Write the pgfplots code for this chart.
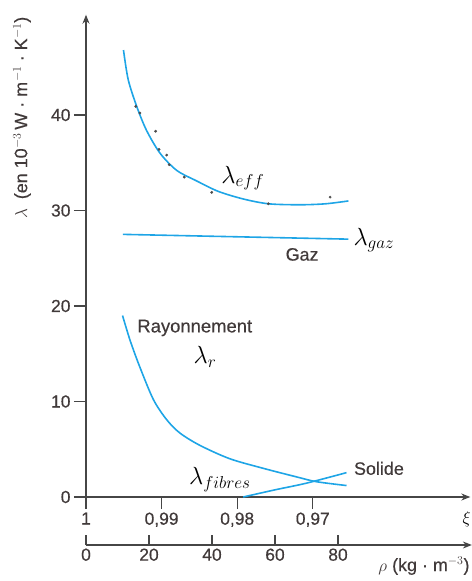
\documentclass[border=0pt]{standalone}
\usepackage{fontspec}
\setmainfont[FakeBold=0.4]{Liberation Sans}
\usepackage{pgfplots}
\pgfplotsset{compat=1.18}
\usetikzlibrary{arrows.meta}
\definecolor{courbe}{RGB}{30,165,230}
\definecolor{axe}{RGB}{70,70,70}
\definecolor{texte}{RGB}{65,58,58}

\begin{document}
\begin{tikzpicture}
\useasboundingbox (-86bp,-84bp) rectangle (386bp,497bp);
\begin{axis}[
  at={(0,0)}, anchor=south west,
  x=3.15bp, y=9.55bp,
  xmin=0, xmax=122, ymin=0, ymax=50.5,
  axis lines=left,
  axis line style={axe, line width=1.2bp, -{Stealth[length=9bp,width=7bp]}},
  tick align=outside, major tick length=12bp,
  tick style={axe, line width=1.2bp},
  xtick={0,24,48,72}, xticklabels={1,{0,99},{0,98},{0,97}},
  ytick={0,10,20,30,40},
  ticklabel style={font=\fontsize{17.5}{20}\selectfont, text=texte},
  /pgf/number format/assume math mode=true,
  clip=false,
]
% lambda eff
\addplot[courbe, line width=1.6bp, smooth] coordinates {
  (11.9,46.8) (13.4,43.7) (16.1,40.9) (19.2,38.4) (23.5,36.0) (28.8,34.2)
  (35.1,33.1) (42,32.0) (50,31.2) (58,30.7) (67.9,30.6) (76,30.7) (83.3,31.0)
};
\addplot[only marks, mark=*, mark size=1.2bp, black!70] coordinates {
  (15.8,40.9) (17.1,40.2) (22.1,38.3) (23.2,36.4) (25.6,35.8) (26.4,34.8)
  (31.2,33.5) (39.9,31.9) (57.9,30.7) (77.5,31.4)
};
% gaz
\addplot[courbe, line width=1.6bp] coordinates {(11.7,27.5) (83.3,27.0)};
% rayonnement
\addplot[courbe, line width=1.6bp, smooth] coordinates {
  (11.6,19.0) (14,16.4) (17.1,13.6) (21.4,10.2) (25.6,8.1) (29.8,6.7)
  (36.2,5.4) (45.7,4.0) (56.3,3.0) (66.9,2.1) (73.2,1.6) (82.7,1.2)
};
% solide
\addplot[courbe, line width=1.6bp, smooth] coordinates {
  (49.9,0) (60,0.75) (70,1.45) (82.7,2.55)
};
\node[font=\fontsize{24}{28}\selectfont] at (axis cs:49.8,33.4) {$\lambda_{eff}$};
\node[font=\fontsize{24}{28}\selectfont] at (axis cs:91.4,26.9) {$\lambda_{gaz}$};
\node[font=\fontsize{24}{28}\selectfont] at (axis cs:37.8,14.7) {$\lambda_{r}$};
\node[font=\fontsize{24}{28}\selectfont] at (axis cs:42.5,1.8) {$\lambda_{fibres}$};
\node[font=\fontsize{18}{20}\selectfont, text=texte] at (axis cs:68.6,25.4) {Gaz};
\node[font=\fontsize{18.5}{20}\selectfont, text=texte, anchor=west] at (axis cs:15.2,17.7) {Rayonnement};
\node[font=\fontsize{18}{20}\selectfont, text=texte] at (axis cs:93,3.0) {Solide};
\node[font=\fontsize{18}{20}\selectfont] at (axis cs:120.9,-2.3) {$\xi$};
\node[rotate=90, font=\fontsize{18}{20}\selectfont, text=texte] at (axis cs:-20.3,39.7)
  {$\lambda$\ \ (en 10$^{-3}$\,W · m$^{-1}$ · K$^{-1}$)};
\end{axis}

\begin{axis}[
  at={(0,-48bp)}, anchor=south west,
  x=3.15bp, y=1bp,
  xmin=0, xmax=122.5, ymin=0, ymax=1,
  axis x line=bottom, axis y line=none,
  axis line style={axe, line width=1.2bp, -{Stealth[length=9bp,width=7bp]}},
  tick align=inside, major tick length=10bp,
  tick style={axe, line width=1.2bp},
  xtick={0,20,40,60,80},
  ticklabel style={font=\fontsize{17.5}{20}\selectfont, text=texte},
  /pgf/number format/assume math mode=true,
  clip=false,
]
\node[font=\fontsize{18}{20}\selectfont, text=texte] at (axis cs:107.3,-21) {$\rho$ (kg · m$^{-3}$)};
\end{axis}
\end{tikzpicture}
\end{document}
